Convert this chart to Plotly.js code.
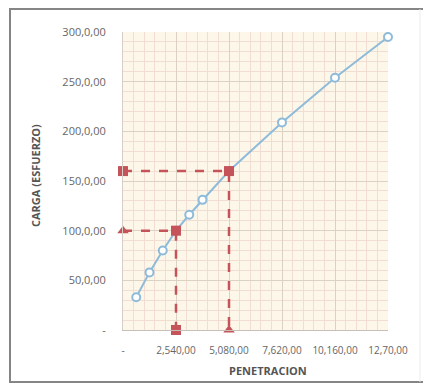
<!DOCTYPE html>
<html>
<head>
<meta charset="utf-8">
<script src="https://cdn.plot.ly/plotly-3.0.1.min.js"></script>
<style>html,body{margin:0;padding:0;background:#fff;}#chart{width:423px;height:383px;}</style>
</head>
<body>
<div id="chart"></div>
<script>
// Data
const penetracion = [635, 1270, 1905, 2540, 3175, 3810, 5080, 7620, 10160, 12700];
const carga = [33, 58, 80, 100, 116, 131, 160, 209, 254, 295];

const ref1X = [0, 2540, 2540];
const ref1Y = [100, 100, 0];
const ref1Symbols = ['triangle-up', 'square', 'square'];

const ref2X = [0, 5080, 5080];
const ref2Y = [160, 160, 0];
const ref2Symbols = ['square', 'square', 'triangle-up'];

const xTickVals = [0, 2540, 5080, 7620, 10160, 12700];
const xTickText = ['-', '2,540,00', '5,080,00', '7,620,00', '10,160,00', '12,70,00'];
const yTickVals = [0, 50, 100, 150, 200, 250, 300];
const yTickText = ['-', '50,0,00', '100,0,00', '150,0,00', '200,0,00', '250,0,00', '300,0,00'];

const xTitle = 'PENETRACION';
const yTitle = 'CARGA (ESFUERZO)';

const blue = '#8ebbd9';
const red = '#c4545a';

const traces = [
  {
    x: penetracion, y: carga, mode: 'lines+markers', type: 'scatter',
    line: {color: blue, width: 2},
    marker: {symbol: 'circle', size: 8, color: '#ffffff', line: {color: blue, width: 2}},
    cliponaxis: false, hoverinfo: 'skip'
  },
  {
    x: ref1X, y: ref1Y, mode: 'lines+markers', type: 'scatter',
    line: {color: red, width: 2.5, dash: 'dash'},
    marker: {symbol: ref1Symbols, size: 10, color: red},
    cliponaxis: false, hoverinfo: 'skip'
  },
  {
    x: ref2X, y: ref2Y, mode: 'lines+markers', type: 'scatter',
    line: {color: red, width: 2.5, dash: 'dash'},
    marker: {symbol: ref2Symbols, size: 10, color: red},
    cliponaxis: false, hoverinfo: 'skip'
  }
];

const xTickFont = {family: 'Open Sans, sans-serif', size: 10, color: '#666666'};
const yTickFont = {family: 'Open Sans, sans-serif', size: 11, color: '#666666'};
const titleFont = {family: 'Open Sans, sans-serif', size: 11, color: '#555555', weight: 'bold'};

const layout = {
  width: 423, height: 383,
  margin: {l: 123, r: 35, t: 32, b: 53},
  paper_bgcolor: '#ffffff',
  plot_bgcolor: '#fdf7ea',
  showlegend: false,
  font: {family: 'Open Sans, sans-serif'},
  xaxis: {
    range: [0, 12700], tickvals: xTickVals, ticktext: xTickText,
    tickfont: xTickFont, ticks: '', ticklabelstandoff: 11,
    showgrid: true, gridcolor: '#dcd2c4', gridwidth: 1,
    minor: {dtick: 508, showgrid: true, gridcolor: '#f2ddd2', gridwidth: 1},
    showline: true, linecolor: '#c8c0b8', linewidth: 1,
    zeroline: false, fixedrange: true
  },
  yaxis: {
    range: [0, 300], tickvals: yTickVals, ticktext: yTickText,
    tickfont: yTickFont, ticks: '', ticklabelstandoff: 14,
    showgrid: true, gridcolor: '#dcd2c4', gridwidth: 1,
    minor: {dtick: 10, showgrid: true, gridcolor: '#f2ddd2', gridwidth: 1},
    showline: true, linecolor: '#d6cec6', linewidth: 1,
    zeroline: false, fixedrange: true
  },
  annotations: [
    {text: xTitle, xref: 'paper', yref: 'paper', x: (268 - 123) / 265, y: -(370 - 330) / 298,
     xanchor: 'center', yanchor: 'middle', showarrow: false, font: titleFont},
    {text: yTitle, xref: 'paper', yref: 'paper', x: -(123 - 35) / 265, y: (330 - 176) / 298,
     xanchor: 'center', yanchor: 'middle', textangle: -90, showarrow: false, font: titleFont}
  ],
  shapes: [
    {type: 'rect', xref: 'paper', yref: 'paper', x0: -(113 / 265), x1: (320 / 265), y0: -(52 / 298), y1: 1 + 23 / 298,
     line: {color: '#858585', width: 2}, layer: 'below'},
    {type: 'line', xref: 'paper', yref: 'paper', x0: (297 / 265), x1: (297 / 265), y0: -(52 / 298), y1: 1 + 23 / 298,
     line: {color: '#ececec', width: 1}, layer: 'below'}
  ]
};

Plotly.newPlot('chart', traces, layout, {displayModeBar: false, staticPlot: true});
</script>
</body>
</html>
